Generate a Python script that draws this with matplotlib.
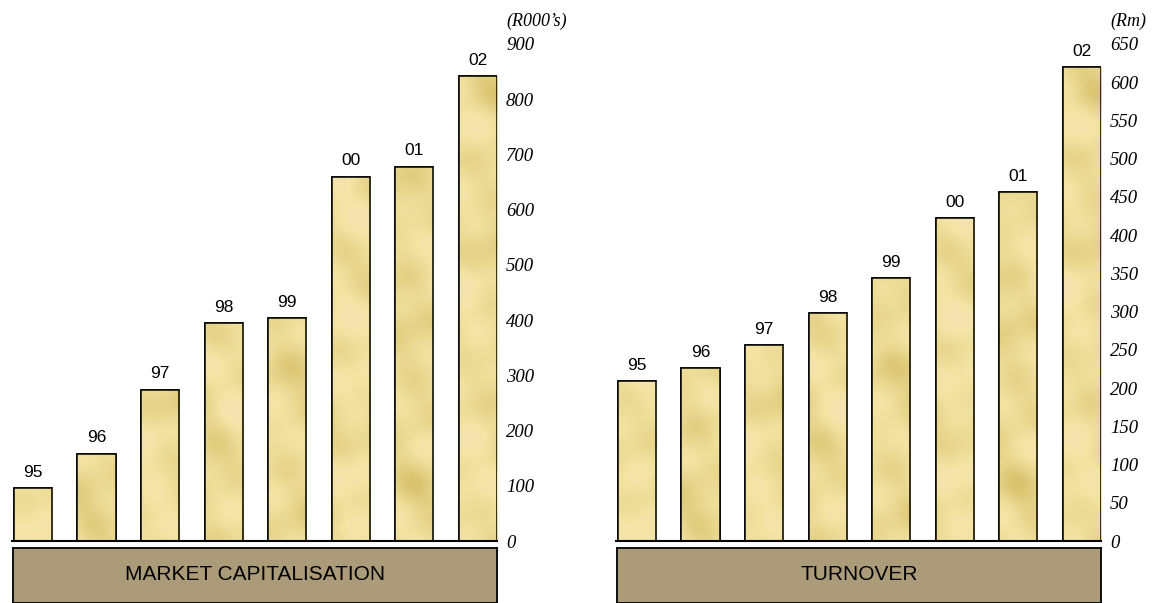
import numpy as np
import matplotlib.pyplot as plt
from matplotlib.patches import Rectangle
from matplotlib.colors import LinearSegmentedColormap

years = ["95", "96", "97", "98", "99", "00", "01", "02"]
market_cap = [96, 158, 274, 395, 404, 660, 678, 842]
turnover = [209, 226, 256, 298, 344, 422, 456, 620]

cap_ticks = list(range(0, 901, 100))
turn_ticks = list(range(0, 651, 50))

W, H = 1156, 603
sandy = LinearSegmentedColormap.from_list("sandy", ["#d8c46e", "#e8d68e", "#f4e4a4", "#f5e3b6"])


def mottle(nx=240, ny=250):
    # soft marbled pattern used as the bar fill
    x = np.linspace(0, 1, nx)
    y = np.linspace(0, 1, ny)
    X, Y = np.meshgrid(x, y)
    z = (np.sin(23 * X + 11 * Y) * np.cos(9 * Y - 5 * X)
         + 0.7 * np.sin(37 * Y + 7 * X + 1.3) * np.sin(17 * X - 3 * Y)
         + 0.5 * np.cos(53 * X + 29 * Y) + 0.4 * np.sin(61 * Y - 19 * X + 0.5))
    return (z - z.min()) / (z.max() - z.min())


def panel(fig, left_px, values, ticks, unit, title):
    ax = fig.add_axes([left_px / W, 62 / H, 485 / W, 497 / H])
    x = np.arange(len(values))
    bars = ax.bar(x, values, width=0.6, color="#ead68e", edgecolor="black", linewidth=1.1, zorder=2)
    tex = mottle()
    for b in bars:
        im = ax.imshow(tex, cmap=sandy, extent=[-0.33, 7.3, 0, ticks[-1]], origin="lower",
                       aspect="auto", zorder=2.5, interpolation="bilinear")
        im.set_clip_path(b)
        ax.add_patch(Rectangle((b.get_x(), 0), b.get_width(), b.get_height(), fill=False,
                               edgecolor="black", linewidth=1.1, zorder=3))
    for xi, v, lab in zip(x, values, years):
        ax.annotate(lab, (xi, v), xytext=(0, 6), textcoords="offset points", ha="center", va="bottom",
                    fontsize=12.5, family="Liberation Sans")
    ax.set_xlim(-0.33, 7.3)
    ax.set_ylim(0, ticks[-1])
    ax.set_yticks(ticks)
    ax.yaxis.tick_right()
    ax.tick_params(axis="y", length=0, pad=6.5)
    for t in ax.get_yticklabels():
        t.set_fontfamily("Liberation Serif")
        t.set_fontstyle("italic")
        t.set_fontsize(13.5)
    ax.set_xticks([])
    for s in ["top", "left", "right"]:
        ax.spines[s].set_visible(False)
    ax.spines["bottom"].set_linewidth(1.5)
    ax.annotate(unit, (1.0, 1.0), xycoords="axes fraction", xytext=(7, 10), textcoords="offset points",
                ha="left", va="bottom", fontsize=13, family="Liberation Serif", style="italic")

    box = fig.add_axes([(left_px + 1) / W, 0.5 / H, 484 / W, 55 / H])
    box.set_facecolor("#ab9b78")
    box.set_xticks([])
    box.set_yticks([])
    for s in box.spines.values():
        s.set_linewidth(1.3)
    box.text(0.5, 0.5, title, ha="center", va="center", fontsize=15, family="Liberation Sans")
    return ax


fig = plt.figure(figsize=(W / 100, H / 100), dpi=100)
panel(fig, 12, market_cap, cap_ticks, "(R000\u2019s)", "MARKET CAPITALISATION")
panel(fig, 616, turnover, turn_ticks, "(Rm)", "TURNOVER")
fig.savefig("out.png", dpi=100)
